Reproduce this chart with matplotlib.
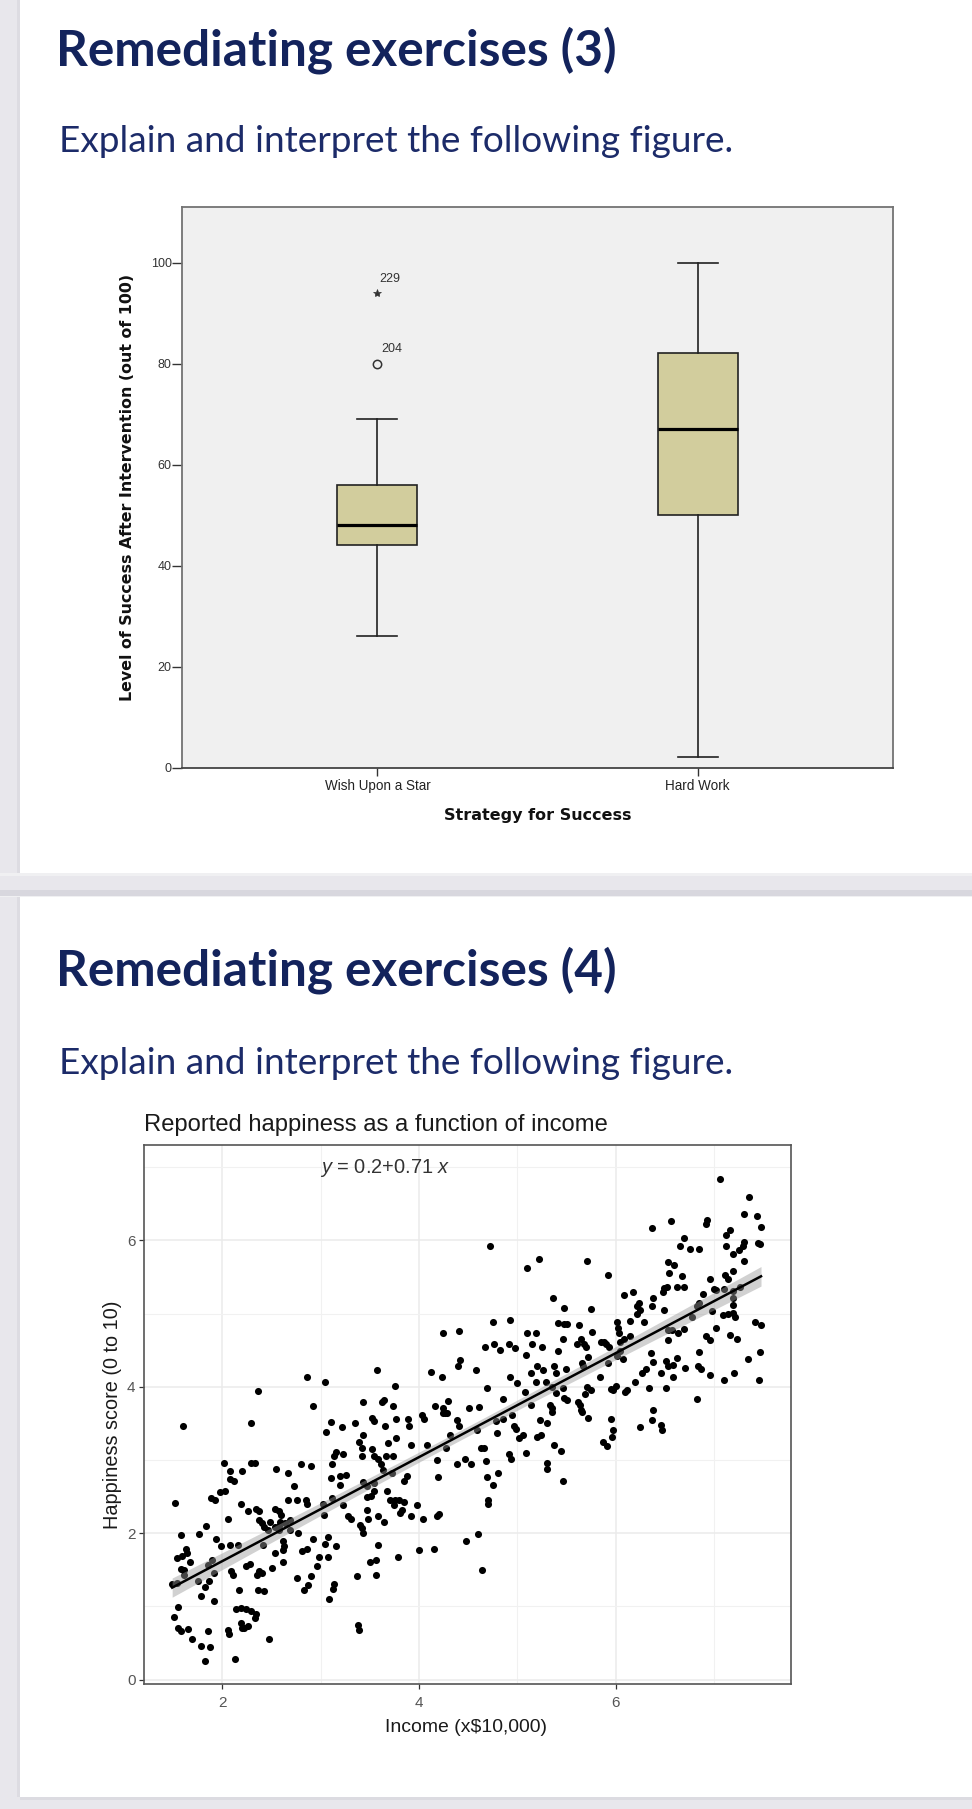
import matplotlib
matplotlib.use("Agg")
import matplotlib.pyplot as plt
import numpy as np
from matplotlib.patches import Rectangle

# ---------------- data: slide 3 (SPSS box plot) ----------------
groups = ["Wish Upon a Star", "Hard Work"]
whisker_low = [26, 2]
quartile_1 = [44, 50]
medians = [48, 67]
quartile_3 = [56, 82]
whisker_high = [69, 100]
outlier_group = [0, 0]
outlier_values = [80, 94]
outlier_ids = ["204", "229"]
outlier_kind = ["mild", "extreme"]
y_ticks_box = [0, 20, 40, 60, 80, 100]

# ---------------- data: slide 4 (income vs happiness) ----------------
income_a = [
    1.60, 2.29, 1.52, 2.02, 2.08, 2.08, 2.12, 2.20, 2.29, 2.33,
    2.55, 2.67, 2.80, 2.90, 2.73, 2.67, 2.76, 2.85, 2.86, 3.05,
    3.11, 3.22, 3.35, 3.52, 3.54, 3.66, 3.77, 3.89, 3.90, 4.03,
    4.05, 4.24, 4.29, 4.39, 4.41, 3.43, 3.39, 3.42, 3.16, 3.14,
    3.23, 3.12, 3.11, 3.20, 3.26, 3.20, 3.52, 3.54, 3.58, 3.42,
    3.69, 3.77, 3.92, 3.67, 3.74, 3.61, 3.63, 3.73, 3.88, 3.85,
    4.08, 4.18, 4.19, 4.28, 4.39, 4.47, 4.53, 4.32, 3.43, 3.47,
    3.54, 3.54, 3.51, 3.47, 3.68, 3.71, 3.76, 3.80, 3.85, 3.75,
    3.83, 3.81, 3.92, 3.98, 4.04, 4.20, 4.18, 3.23, 3.03, 3.02,
    3.12, 3.28, 3.31, 3.47, 3.48, 3.58, 3.64, 3.40, 3.42, 3.43,
    3.58, 3.79, 3.50, 3.56, 3.56, 3.37, 4.00, 4.15, 4.48, 3.38,
    3.39, 3.08, 3.04, 3.16, 2.92, 3.08, 2.98, 2.96, 2.90, 2.76,
    2.87, 2.83, 3.14, 3.13, 3.09, 2.81, 2.86, 2.77, 2.62, 2.62,
    2.63, 2.62, 2.54, 2.51, 2.37, 2.35, 2.40, 2.24, 2.28, 2.09,
    2.11, 2.17, 2.36, 2.42, 2.14, 2.19, 2.24, 2.29, 2.34, 2.33,
    2.19, 2.22, 2.26, 2.20, 2.06, 2.07, 2.47, 2.13, 1.92, 1.78,
    1.82, 1.86, 1.75, 1.92, 1.85, 1.90, 1.67, 1.58, 1.61, 1.61,
    1.54, 1.59, 1.63, 1.64, 1.49, 1.54, 1.58, 1.76, 1.83, 1.94,
    1.99, 2.08, 2.16, 2.06, 2.19, 2.26, 2.34, 2.37, 2.37, 2.40,
    2.42, 2.49, 2.54, 2.58, 2.60, 2.54, 2.58, 2.59, 2.64, 2.69,
    2.58, 2.69, 2.46, 2.41, 1.88, 1.93, 1.98, 2.03, 1.55, 1.51,
    1.55, 1.58, 1.65, 1.69, 1.78, 1.87, 1.85, 1.82,
]
happiness_a = [
    3.47, 3.50, 2.41, 2.96, 2.85, 2.74, 2.71, 2.85, 2.96, 2.96,
    2.88, 2.82, 2.94, 2.92, 2.65, 2.46, 2.46, 2.45, 2.40, 3.39,
    3.52, 3.45, 3.50, 3.57, 3.54, 3.47, 3.56, 3.56, 3.47, 3.62,
    3.56, 3.64, 3.65, 3.55, 3.47, 3.34, 3.25, 3.16, 3.11, 3.05,
    3.08, 2.94, 2.75, 2.78, 2.80, 2.66, 3.15, 3.05, 3.01, 3.05,
    3.23, 3.30, 3.21, 3.06, 3.06, 2.94, 2.87, 2.83, 2.78, 2.71,
    3.21, 3.00, 2.77, 3.16, 2.94, 3.02, 2.94, 3.34, 2.70, 2.65,
    2.69, 2.58, 2.51, 2.50, 2.58, 2.45, 2.46, 2.46, 2.43, 2.39,
    2.32, 2.28, 2.24, 2.39, 2.20, 2.27, 2.23, 2.39, 2.25, 2.40,
    2.48, 2.24, 2.20, 2.32, 2.19, 2.24, 2.16, 2.11, 2.07, 2.01,
    1.84, 1.68, 1.61, 1.63, 1.43, 1.41, 1.77, 1.79, 1.90, 0.75,
    0.68, 1.95, 1.86, 1.83, 1.92, 1.67, 1.67, 1.56, 1.42, 1.39,
    1.30, 1.23, 1.31, 1.24, 1.10, 1.76, 1.79, 2.01, 1.61, 1.77,
    1.83, 1.89, 1.73, 1.52, 1.48, 1.43, 1.46, 1.56, 1.58, 1.48,
    1.43, 1.22, 1.22, 1.21, 0.97, 0.98, 0.97, 0.94, 0.90, 0.84,
    0.78, 0.71, 0.73, 0.70, 0.68, 0.62, 0.55, 0.28, 1.07, 1.14,
    1.26, 1.35, 1.35, 1.46, 1.57, 1.63, 1.61, 1.51, 1.50, 1.43,
    1.66, 1.69, 1.79, 1.73, 1.31, 1.32, 1.98, 1.99, 2.10, 1.92,
    1.82, 1.84, 1.84, 2.19, 2.40, 2.31, 2.33, 2.30, 2.18, 2.14,
    2.09, 2.16, 2.33, 2.30, 2.25, 2.09, 2.10, 2.16, 2.14, 2.18,
    2.05, 2.04, 2.04, 1.84, 2.48, 2.46, 2.57, 2.58, 0.99, 0.86,
    0.70, 0.66, 0.69, 0.55, 0.46, 0.44, 0.66, 0.26,
]
income_b = [2.36, 2.86, 3.04, 3.57, 3.76, 4.24, 4.41, 4.42, 4.40, 4.12,
            4.23, 2.92, 3.43, 3.62, 3.64, 3.74, 4.16, 4.25, 4.30, 4.27, 4.51]
happiness_b = [3.94, 4.14, 4.07, 4.23, 4.01, 4.74, 4.77, 4.37, 4.29, 4.20,
               4.14, 3.74, 3.80, 3.80, 3.82, 3.74, 3.74, 3.71, 3.81, 3.65, 3.71]
income_c = [
    7.06, 7.36, 7.31, 7.44, 7.48, 6.92, 6.93, 6.56, 6.37, 7.16,
    7.12, 6.70, 6.66, 6.76, 6.85, 7.12, 7.31, 7.30, 7.26, 7.20,
    7.31, 7.45, 7.47, 4.72, 5.10, 5.22, 5.71, 5.92, 5.36, 6.53,
    6.59, 6.54, 6.68, 6.63, 6.70, 6.49, 6.52, 6.48, 6.38, 6.37,
    6.49, 6.18, 6.09, 6.24, 6.22, 6.25, 6.22, 6.96, 7.00, 7.02,
    7.11, 7.14, 7.20, 7.10, 7.20, 7.19, 7.19, 6.89, 6.85, 6.83,
    6.78, 6.98, 7.09, 7.14, 7.20, 7.22, 7.27, 7.42, 7.48, 7.02,
    6.92, 6.96, 7.16, 7.24, 7.47, 7.35, 7.21, 7.46, 7.10, 6.96,
    6.84, 6.87, 6.85, 6.71, 6.63, 6.51, 6.53, 6.58, 6.58, 6.46,
    6.36, 6.38, 6.31, 6.27, 6.34, 6.51, 6.83, 6.38, 6.53, 6.53,
    6.57, 6.64, 6.70, 6.20, 6.10, 6.01, 6.03, 6.04, 6.15, 6.29,
    6.09, 6.15, 6.05, 6.05, 6.08, 6.02, 5.95, 6.00, 5.97, 6.12,
    5.90, 5.93, 5.88, 5.85, 5.92, 5.84, 5.75, 5.48, 5.41, 5.48,
    5.51, 5.47, 5.63, 5.65, 5.61, 5.68, 5.70, 5.76, 5.72, 5.66,
    5.67, 5.41, 5.37, 5.39, 5.50, 5.25, 5.19, 5.10, 5.15, 5.09,
    4.93, 4.75, 4.67, 4.76, 4.82, 4.92, 4.98, 4.58, 4.69, 4.93,
    5.00, 5.14, 5.20, 5.26, 5.19, 5.08, 5.29, 5.35, 5.39, 5.47,
    5.48, 5.51, 5.33, 5.35, 5.14, 4.86, 5.62, 5.64, 5.65, 5.71,
    5.75, 5.69, 4.61,
]
happiness_c = [
    6.84, 6.60, 6.36, 6.33, 6.18, 6.23, 6.28, 6.26, 6.17, 6.14,
    6.07, 6.03, 5.92, 5.88, 5.88, 5.92, 5.98, 5.92, 5.87, 5.81,
    5.72, 5.96, 5.95, 5.92, 5.62, 5.75, 5.72, 5.53, 5.22, 5.70,
    5.67, 5.56, 5.51, 5.37, 5.37, 5.35, 5.37, 5.29, 5.22, 5.10,
    5.05, 5.30, 5.26, 5.14, 5.10, 5.05, 5.00, 5.47, 5.34, 5.33,
    5.53, 5.48, 5.58, 5.34, 5.31, 5.21, 5.12, 5.27, 5.14, 5.10,
    4.96, 5.03, 4.98, 5.00, 5.01, 4.96, 5.36, 4.89, 4.85, 4.80,
    4.69, 4.64, 4.71, 4.66, 4.48, 4.38, 4.19, 4.10, 4.10, 4.16,
    4.29, 4.25, 4.47, 4.26, 4.39, 4.35, 4.28, 4.30, 4.14, 4.19,
    4.46, 4.34, 4.24, 4.19, 3.99, 3.99, 3.83, 3.68, 4.64, 4.78,
    4.78, 4.74, 4.79, 4.07, 3.93, 4.89, 4.80, 4.73, 4.90, 4.89,
    4.65, 4.69, 4.62, 4.49, 4.38, 4.42, 3.97, 4.01, 3.96, 3.96,
    4.59, 4.55, 4.62, 4.62, 4.33, 4.14, 5.06, 5.08, 4.87, 4.86,
    4.86, 4.65, 4.84, 4.65, 4.58, 4.59, 4.55, 4.75, 4.41, 4.33,
    4.28, 4.49, 4.28, 4.19, 4.25, 4.55, 4.74, 4.73, 4.59, 4.44,
    4.92, 4.89, 4.54, 4.59, 4.50, 4.59, 4.53, 4.23, 3.98, 4.13,
    4.05, 4.19, 4.28, 4.23, 4.07, 3.93, 4.07, 4.00, 3.91, 3.99,
    3.85, 3.82, 3.75, 3.71, 3.75, 3.83, 3.80, 3.75, 3.68, 4.00,
    3.96, 3.90, 3.73,
]
income_d = [4.59, 4.63, 4.66, 4.68, 4.69, 4.75, 4.80, 4.70, 4.70, 4.78,
            4.79, 4.86, 4.95, 4.92, 4.94, 4.97, 4.99, 5.02, 5.06, 5.09,
            5.23, 5.30, 5.20, 5.24, 5.35, 5.37, 5.45, 5.30, 5.30, 5.47,
            5.66, 5.72, 5.95, 5.97, 5.96, 5.87, 5.91, 6.25, 6.37, 6.46,
            6.47, 4.60, 4.64]
happiness_d = [3.41, 3.16, 3.17, 2.99, 2.77, 2.66, 2.83, 2.45, 2.40, 3.54,
               3.37, 3.56, 3.61, 3.09, 3.02, 3.46, 3.42, 3.30, 3.34, 3.10,
               3.55, 3.50, 3.31, 3.34, 3.66, 3.21, 3.12, 2.96, 2.88, 2.72,
               3.66, 3.58, 3.56, 3.41, 3.31, 3.25, 3.19, 3.45, 3.55, 3.48,
               3.41, 1.99, 1.50]
fit_intercept = 0.2
fit_slope = 0.71
x_ticks_sc = [2, 4, 6]
y_ticks_sc = [0, 2, 4, 6]

# ---------------- figure ----------------
W, H = 972, 1809
plt.rcParams["mathtext.fontset"] = "custom"
plt.rcParams["mathtext.it"] = "Liberation Sans:italic"
plt.rcParams["mathtext.rm"] = "Liberation Sans"

fig = plt.figure(figsize=(W / 100, H / 100), dpi=100, facecolor="#e8e7ec")


def fx(p):
    return p / W


def fy(p):
    return 1 - p / H


def rect(x0, y0, x1, y1, color):
    fig.patches.append(Rectangle((fx(x0), fy(y1)), (x1 - x0) / W, (y1 - y0) / H,
                                 transform=fig.transFigure, facecolor=color,
                                 edgecolor="none", zorder=-5))


# slide panels
rect(17, 0, 20, 874, "#dddce2")
rect(17, 897, 20, 1797, "#dddce2")
rect(20, 0, W, 874, "white")
rect(20, 897, W, 1797, "white")
rect(0, 873, W, 876, "#f0f0f2")
rect(0, 890, W, 896, "#d8d7de")
rect(0, 896, W, 897, "#f0f0f2")
rect(20, 1797, W, 1800, "#dcdbe1")

renderer = fig.canvas.get_renderer()


def fit(t, target, vertical=False):
    bb = t.get_window_extent(renderer=renderer)
    cur = bb.height if vertical else bb.width
    t.set_fontsize(t.get_fontsize() * target / cur)


navy = "#13235c"
navy2 = "#1c2b69"
for base_t, base_s, txt in [(65, 151.7, "Remediating exercises (3)"),
                            (986, 1073.5, "Remediating exercises (4)")]:
    t = fig.text(fx(56), fy(base_t), txt, family="Lato", fontweight="bold",
                 fontsize=32, color=navy, va="baseline", ha="left")
    fit(t, 561)
    s = fig.text(fx(59), fy(base_s), "Explain and interpret the following figure.",
                 family="Lato", fontsize=22, color=navy2, va="baseline", ha="left")
    fit(s, 674)

# ---------------- box plot ----------------
ax1 = fig.add_axes([fx(181.7), fy(767.5), (893.4 - 181.7) / W, (767.5 - 206.5) / H])
ax1.set_facecolor("#f0f0f0")
stats = []
for i, g in enumerate(groups):
    stats.append(dict(label=g, whislo=whisker_low[i], q1=quartile_1[i], med=medians[i],
                      q3=quartile_3[i], whishi=whisker_high[i], fliers=[]))
ax1.bxp(stats, positions=[1, 2], widths=0.25, capwidths=0.125, patch_artist=True,
        showfliers=False,
        boxprops=dict(facecolor="#d2cd9d", edgecolor="#222222", linewidth=1.2),
        medianprops=dict(color="black", linewidth=2.3),
        whiskerprops=dict(color="#222222", linewidth=1.2),
        capprops=dict(color="#222222", linewidth=1.2))
for g, v, lab, kind in zip(outlier_group, outlier_values, outlier_ids, outlier_kind):
    if kind == "mild":
        ax1.plot([g + 1], [v], marker="o", ms=6, mfc="none", mec="#333333", mew=1.1)
        off = (4, 15)
    else:
        ax1.plot([g + 1], [v], marker="*", ms=6, color="#333333", mew=0.5)
        off = (2, 14)
    ax1.annotate(lab, (g + 1, v), xytext=off, textcoords="offset pixels",
                 ha="left", va="center", fontsize=9, family="Liberation Sans",
                 color="#333333")
ax1.set_xlim(0.389, 2.611)
ax1.set_ylim(0, 111.1)
ax1.set_yticks(y_ticks_box)
ax1.tick_params(axis="y", direction="out", length=7.2, width=1, color="#333333",
                labelsize=9, labelcolor="#333333", pad=0)
ax1.tick_params(axis="x", direction="out", length=6, width=1, color="#333333",
                labelsize=9, labelcolor="#222222", pad=2)
for lbl in ax1.get_yticklabels() + ax1.get_xticklabels():
    lbl.set_family("Liberation Sans")
for sp in ["top", "right", "left"]:
    ax1.spines[sp].set_color("#737373")
    ax1.spines[sp].set_linewidth(1.3)
ax1.spines["bottom"].set_color("#444444")
ax1.spines["bottom"].set_linewidth(1.3)

fig.canvas.draw()
xl = ax1.get_xticklabels()
fsz = xl[0].get_fontsize() * 107 / xl[0].get_window_extent(renderer=renderer).width
for lbl in xl:
    lbl.set_fontsize(fsz)

yl = fig.text(fx(127), fy(487), "Level of Success After Intervention (out of 100)",
              rotation=90, ha="center", va="center", family="DejaVu Sans",
              fontweight="bold", fontsize=11, color="#111111")
fit(yl, 426, vertical=True)
xlb = fig.text(fx(537.5), fy(816), "Strategy for Success", ha="center", va="center",
               family="DejaVu Sans", fontweight="bold", fontsize=11, color="#111111")
fit(xlb, 187)

# ---------------- scatter ----------------
x = np.array(income_a + income_b + income_c + income_d)
y = np.array(happiness_a + happiness_b + happiness_c + happiness_d)

ax2 = fig.add_axes([fx(143.8), fy(1683.8), (791 - 143.8) / W, (1683.8 - 1144.6) / H])
ax2.set_facecolor("white")
ax2.set_xlim(1.2014, 7.785)
ax2.set_ylim(-0.056, 7.31)
ax2.set_xticks(x_ticks_sc)
ax2.set_yticks(y_ticks_sc)
ax2.set_xticks([3, 5, 7], minor=True)
ax2.set_yticks([1, 3, 5, 7], minor=True)
ax2.grid(which="major", color="#ebebeb", linewidth=1.1)
ax2.grid(which="minor", color="#f1f1f1", linewidth=0.8)
ax2.set_axisbelow(True)
ax2.tick_params(which="minor", length=0)
ax2.tick_params(which="major", direction="out", length=3.5, width=0.9, color="#333333",
                labelsize=11, labelcolor="#555555")
ax2.tick_params(axis="x", pad=5)
ax2.tick_params(axis="y", pad=2.5)
for lbl in ax2.get_xticklabels() + ax2.get_yticklabels():
    lbl.set_family("Liberation Sans")
for sp in ax2.spines.values():
    sp.set_color("#555555")
    sp.set_linewidth(1.2)

ax2.scatter(x, y, s=26, c="black", linewidths=0, zorder=3)

n = len(x)
xs = np.linspace(x.min(), x.max(), 120)
ys = fit_intercept + fit_slope * xs
resid = y - (fit_intercept + fit_slope * x)
s_res = np.sqrt(np.sum(resid ** 2) / (n - 2))
sxx = np.sum((x - x.mean()) ** 2)
se = s_res * np.sqrt(1.0 / n + (xs - x.mean()) ** 2 / sxx) * 1.966
ax2.fill_between(xs, ys - se, ys + se, color="#999999", alpha=0.45, linewidth=0, zorder=4)
ax2.plot(xs, ys, color="black", linewidth=1.8, zorder=5)

eq = ax2.text(3.66, 6.99, r"$y$ = 0.2+0.71 $x$", ha="center", va="center",
              family="Liberation Sans", fontsize=13, color="#333333", zorder=6)
fit(eq, 130)

pt = fig.text(fx(143.8), fy(1130.5), "Reported happiness as a function of income",
              ha="left", va="baseline", family="Liberation Sans", fontsize=16,
              color="#1a1a1a")
fit(pt, 465)
xl2 = fig.text(fx(465.5), fy(1731.5), "Income (x$10,000)", ha="center", va="baseline",
               family="Liberation Sans", fontsize=14, color="#1a1a1a")
fit(xl2, 162)
yl2 = fig.text(fx(112), fy(1414.5), "Happiness score (0 to 10)", rotation=90,
               ha="center", va="center", family="Liberation Sans", fontsize=14,
               color="#1a1a1a")
fit(yl2, 229, vertical=True)

fig.savefig("out.png", dpi=100, facecolor=fig.get_facecolor())
